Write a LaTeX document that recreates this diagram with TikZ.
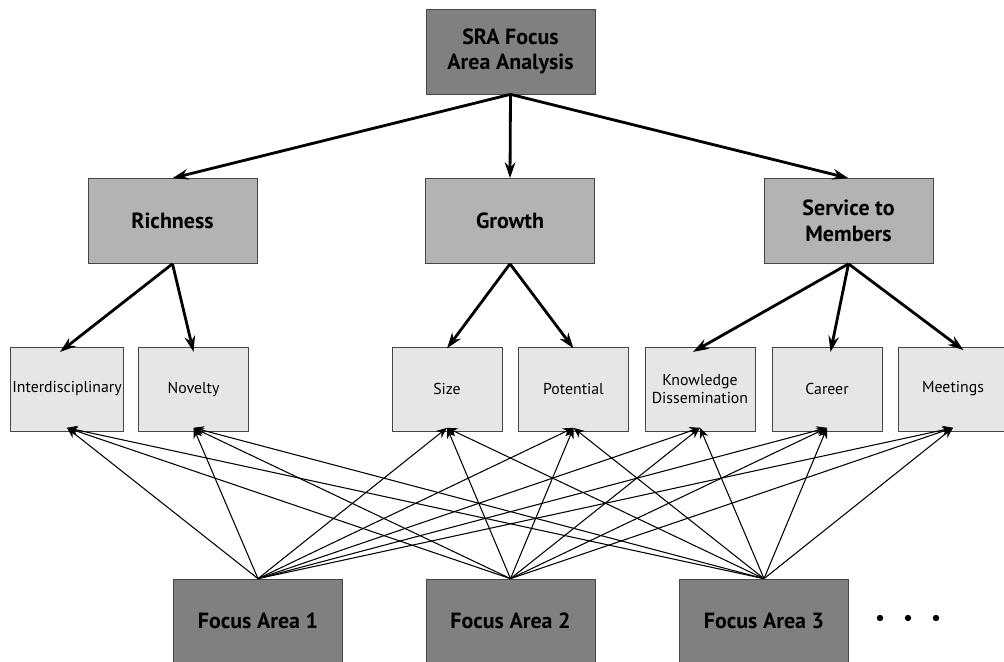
\documentclass[tikz,border=0pt]{standalone}
\usepackage{fontspec}
\setmainfont{PT Sans}
\usetikzlibrary{arrows.meta}

\definecolor{darkbox}{RGB}{128,128,128}
\definecolor{midbox}{RGB}{179,179,179}
\definecolor{leafbox}{RGB}{230,230,230}
\definecolor{edgegray}{RGB}{70,70,70}

\tikzset{
	topbox/.style={draw=edgegray, fill=darkbox, minimum width=3.38cm, minimum height=1.7cm, align=center, font=\fontsize{12.5}{14.5}\selectfont\bfseries},
	midbox/.style={draw=edgegray, fill=midbox, minimum width=3.38cm, minimum height=1.7cm, align=center, font=\fontsize{12.5}{14.5}\selectfont\bfseries},
	leaf/.style={draw=edgegray, fill=leafbox, minimum width=2.2cm, minimum height=1.68cm, align=center, inner sep=1pt, font=\fontsize{9}{10.5}\selectfont},
	bigarrow/.style={-{Stealth[length=9pt, width=6pt]}, line width=1.6pt},
	thinarrow/.style={-{Stealth[length=6pt, width=5pt]}, line width=0.6pt}
}

\begin{document}
\begin{tikzpicture}[x=0.02cm, y=-0.02cm]
	\useasboundingbox (0,0) rectangle (1004,662);
	% top level
	\node [topbox] (sra) at (510.5,51.5) {SRA Focus\\Area Analysis};
	% criteria
	\node [midbox] (rich) at (172.5,221) {Richness};
	\node [midbox] (grow) at (510,221) {Growth};
	\node [midbox] (serv) at (848.5,221) {Service to\\Members};
	% sub-criteria
	\node [leaf] (inter) at (67,389) {Interdisciplinary};
	\node [leaf] (nov) at (193.5,389) {Novelty};
	\node [leaf] (size) at (447,389) {Size};
	\node [leaf] (pot) at (573.5,389) {Potential};
	\node [leaf] (know) at (700,389) {Knowledge\\Dissemination};
	\node [leaf] (car) at (827,389) {Career};
	\node [leaf] (meet) at (953,389) {Meetings};
	% focus areas
	\node [topbox, minimum height=1.68cm] (fa1) at (258,621) {Focus Area 1};
	\node [topbox, minimum height=1.68cm] (fa2) at (510.5,621) {Focus Area 2};
	\node [topbox, minimum height=1.68cm] (fa3) at (764,621) {Focus Area 3};
	\foreach \x in {880,908,936}
		\fill (\x,618) circle [radius=3.2];

	\foreach \m in {rich,grow,serv}
		\draw [bigarrow] (sra.south) -- (\m.north);
	\draw [bigarrow] (rich.south) -- ([xshift=-4pt,yshift=-3pt]inter.north);
	\draw [bigarrow] (rich.south) -- ([yshift=-3pt]nov.north);
	\draw [bigarrow] (grow.south) -- ([yshift=-1pt]size.north);
	\draw [bigarrow] (grow.south) -- ([yshift=-1pt]pot.north);
	\draw [bigarrow] (serv.south) -- ([xshift=-4pt,yshift=-3pt]know.north);
	\draw [bigarrow] (serv.south) -- ([xshift=2pt,yshift=-3pt]car.north);
	\draw [bigarrow] (serv.south) -- ([xshift=6pt,yshift=-2pt]meet.north);

	\foreach \f in {fa1,fa2,fa3}
		\foreach \l in {inter,nov,size,pot,know,car,meet}
			\draw [thinarrow] (\f.north) -- ([yshift=2pt]\l.south);
\end{tikzpicture}
\end{document}
